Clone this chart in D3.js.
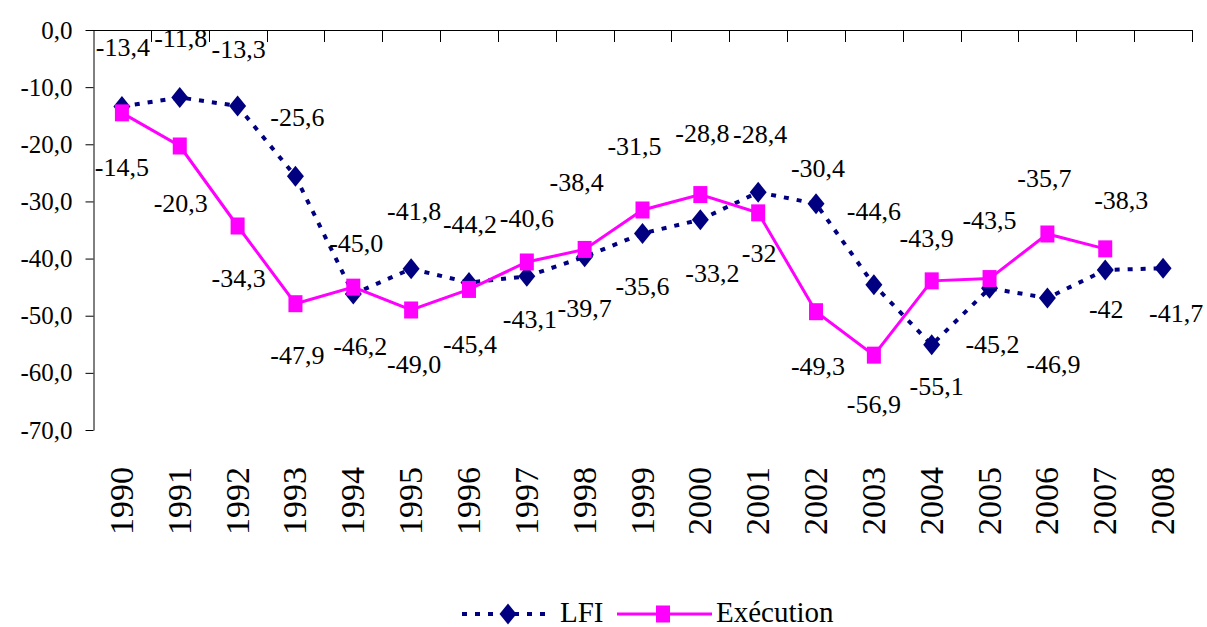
<!DOCTYPE html>
<html>
<head>
<meta charset="utf-8">
<script src="https://cdn.jsdelivr.net/npm/d3@7"></script>
<style>
  html, body { margin: 0; padding: 0; background: #fff; }
  svg { display: block; }
</style>
</head>
<body>
<svg id="chart" width="1207" height="627"></svg>
<script>
// Years on the category axis
const years = ["1990","1991","1992","1993","1994","1995","1996","1997","1998","1999",
               "2000","2001","2002","2003","2004","2005","2006","2007","2008"];

// Series values
const lfi = [-13.4, -11.8, -13.3, -25.6, -46.2, -41.8, -44.2, -43.1, -39.7, -35.6,
             -33.2, -28.4, -30.4, -44.6, -55.1, -45.2, -46.9, -42, -41.7];
const execution = [-14.5, -20.3, -34.3, -47.9, -45.0, -49.0, -45.4, -40.6, -38.4, -31.5,
                   -28.8, -32, -49.3, -56.9, -43.9, -43.5, -35.7, -38.3];

// Decimals shown in each data label
const lfiDecimals = [1,1,1,1,1,1,1,1,1,1,1,1,1,1,1,1,1,0,1];
const executionDecimals = [1,1,1,1,1,1,1,1,1,1,1,0,1,1,1,1,1,1];

// Value axis ticks
const yTicks = [0, -10, -20, -30, -40, -50, -60, -70];

// Data label placement relative to each point (px)
const lfiLabelOffset = [
  [1,-59],[1,-59],[1,-57],[2,-59],[7,52],[3,-57],[1,-58],[3,43],[0,52],[0,53],
  [12,54],[2,-58],[2,-35],[0,-73],[5,42],[3,56],[6,66],[1,39],[13,45]
];
const executionLabelOffset = [
  [0,55],[1,57],[1,52],[2,52],[3,-44],[3,54],[1,55],[0,-44],[-8,-67],[-8,-64],
  [2,-61],[1,41],[2,55],[0,49],[-5,-42],[0,-58],[-3,-56],[16,-48]
];

const lfiColor = "#000080";
const execColor = "#FF00FF";
const FONT = '"Liberation Serif", Tinos, "Times New Roman", Times, "Nimbus Roman", "Nimbus Roman No9 L", FreeSerif, "Noto Serif", "DejaVu Serif", serif';

const svg = d3.select("#chart");

const x = d3.scaleBand().domain(years).range([93, 1192]).paddingInner(0).paddingOuter(0);
const y = d3.scaleLinear().domain([-70, 0]).range([430, 30]);
const cx = d => x(d) + x.bandwidth() / 2;

const fmt = (v, d) => v.toFixed(d).replace(".", ",");

// Value axis (left)
const yAxis = d3.axisLeft(y)
  .tickValues(yTicks)
  .tickSize(8)
  .tickSizeOuter(0)
  .tickPadding(13)
  .tickFormat(v => fmt(v, 1));

const gy = svg.append("g")
  .attr("transform", "translate(93.5,0)")
  .call(yAxis)
  .attr("font-family", FONT)
  .attr("font-size", 25);
gy.select(".domain").attr("stroke", "#000").attr("stroke-width", 1);
gy.selectAll(".tick line").attr("stroke", "#000");
gy.selectAll(".tick text").attr("fill", "#000");

// Category axis line at zero, with tick marks between categories
const gx = svg.append("g");
gx.append("line")
  .attr("x1", x.range()[0]).attr("x2", x.range()[1])
  .attr("y1", y(0) + 0.5).attr("y2", y(0) + 0.5)
  .attr("stroke", "#000").attr("stroke-width", 1);
gx.selectAll("line.sep")
  .data(years)
  .join("line")
  .attr("class", "sep")
  .attr("x1", d => Math.round(x(d) + x.step()) + 0.5)
  .attr("x2", d => Math.round(x(d) + x.step()) + 0.5)
  .attr("y1", y(0))
  .attr("y2", y(0) + 12)
  .attr("stroke", "#000").attr("stroke-width", 1);

// Year labels, rotated, below the plot
svg.append("g")
  .attr("font-family", FONT)
  .attr("font-size", 34)
  .selectAll("text")
  .data(years)
  .join("text")
  .attr("transform", d => `translate(${cx(d) + 11},467) rotate(-90)`)
  .attr("text-anchor", "end")
  .text(d => d);

// Lines
const line = d3.line().x(d => cx(d.year)).y(d => y(d.value));
const lfiData = years.map((yr, i) => ({ year: yr, value: lfi[i], dec: lfiDecimals[i], off: lfiLabelOffset[i] }));
const execData = execution.map((v, i) => ({ year: years[i], value: v, dec: executionDecimals[i], off: executionLabelOffset[i] }));

svg.append("path")
  .datum(lfiData)
  .attr("d", line)
  .attr("fill", "none")
  .attr("stroke", lfiColor)
  .attr("stroke-width", 4)
  .attr("stroke-dasharray", "5,8");

const diamond = "M0,-10.5 L8.5,0 L0,10.5 L-8.5,0 Z";
svg.append("g")
  .selectAll("path")
  .data(lfiData)
  .join("path")
  .attr("transform", d => `translate(${cx(d.year)},${y(d.value)})`)
  .attr("d", diamond)
  .attr("fill", lfiColor);

svg.append("path")
  .datum(execData)
  .attr("d", line)
  .attr("fill", "none")
  .attr("stroke", execColor)
  .attr("stroke-width", 3);

svg.append("g")
  .selectAll("rect")
  .data(execData)
  .join("rect")
  .attr("x", d => cx(d.year) - 7)
  .attr("y", d => y(d.value) - 8.5)
  .attr("width", 14)
  .attr("height", 17)
  .attr("fill", execColor);

// Data labels
function drawLabels(data) {
  svg.append("g")
    .attr("font-family", FONT)
    .attr("font-size", 26)
    .selectAll("text")
    .data(data)
    .join("text")
    .attr("x", d => cx(d.year) + d.off[0])
    .attr("y", d => y(d.value) + d.off[1] + 8.5)
    .attr("text-anchor", "middle")
    .text(d => fmt(d.value, d.dec));
}
drawLabels(lfiData);
drawLabels(execData);

// Legend
const lg = svg.append("g").attr("font-family", FONT).attr("font-size", 29);
lg.append("line")
  .attr("x1", 462).attr("x2", 550).attr("y1", 614).attr("y2", 614)
  .attr("stroke", lfiColor).attr("stroke-width", 4).attr("stroke-dasharray", "5,8");
lg.append("path")
  .attr("transform", "translate(508,614)")
  .attr("d", diamond)
  .attr("fill", lfiColor);
lg.append("text")
  .attr("x", 560).attr("y", 622)
  .text("LFI");
lg.append("line")
  .attr("x1", 617).attr("x2", 712).attr("y1", 614).attr("y2", 614)
  .attr("stroke", execColor).attr("stroke-width", 3);
lg.append("rect")
  .attr("x", 656).attr("y", 605.5).attr("width", 14).attr("height", 17)
  .attr("fill", execColor);
lg.append("text")
  .attr("x", 716).attr("y", 622)
  .text("Exécution");
</script>
</body>
</html>
